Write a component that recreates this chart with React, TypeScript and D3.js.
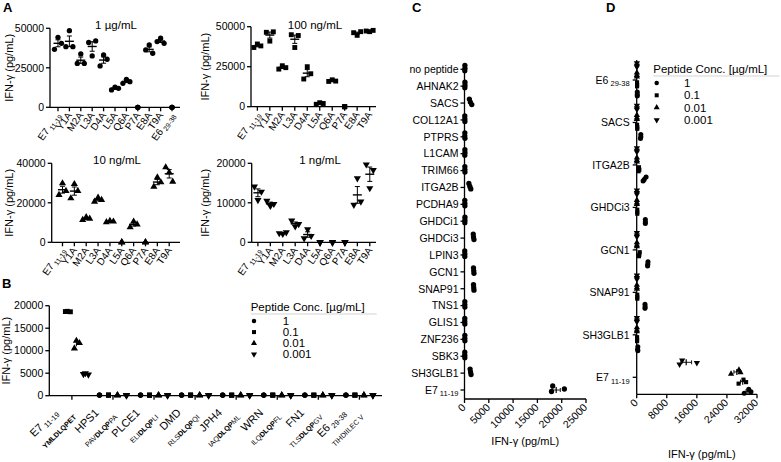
import React from "react";
import * as d3 from "d3";

const FONT = "'Liberation Sans', Arial, Helvetica, sans-serif";
const Y_LABEL = "IFN-γ (pg/mL)";
const SUBS: Record<string, string> = { E7: "11-19", E6: "29-38" };

// ---------------- Panel A ----------------
const aCats11 = ["E7", "Y1A", "M2A", "L3A", "D4A", "L5A", "Q6A", "P7A", "E8A", "T9A", "E6"];
const aCats10 = ["E7", "Y1A", "M2A", "L3A", "D4A", "L5A", "Q6A", "P7A", "E8A", "T9A"];

// replicates (left, middle, right), pg/mL
const a1ug = [
  [36700, 44300, 40500], [38400, 48500, 38400], [27800, 33800, 27800], [41000, 32500, 42000],
  [26200, 33100, 30400], [11000, 12700, 12000], [15200, 17700, 16200], [0, 0, 0],
  [36300, 39500, 34200], [41600, 43700, 40500], [0, 0, 0],
];
const a100ng = [
  [37000, 39200, 38000], [46500, 41000, 46800], [23500, 25600, 24400], [45000, 37000, 44500],
  [17300, 25000, 20600], [1500, 2500, 2000], [15800, 16800, 16000], [0, 0, 0],
  [46250, 44600, 46900], [47300, 46900, 47700],
];
const a10ng = [
  [24000, 29900, 26000], [22300, 29500, 26000], [11300, 12700, 12000], [20600, 22600, 21500],
  [10200, 10800, 10500], [0, 0, 0], [7600, 10500, 9100], [0, 0, 0],
  [28200, 32900, 30400], [38000, 35400, 30700],
];
const a1ng = [
  [14100, 10700, 12800], [10500, 9200, 9700], [2300, 2100, 2500], [5500, 4000, 4600],
  [1000, 3300, 1600], [0, 0, 0], [0, 0, 0], [0, 0, 0],
  [9500, 16200, 10300], [19700, 13700, 18300],
];
const a1ugTicks = [0, 25000, 50000];
const a100ngTicks = [0, 25000, 50000];
const a10ngTicks = [0, 20000, 40000];
const a1ngTicks = [0, 10000, 20000];

// ---------------- Panel B ----------------
const bGroups = ["E7", "HPS1", "PLCE1", "DMD", "JPH4", "WRN", "FN1", "E6"];
const bSeqPre = ["", "PAV", "ELI", "RLS", "IAQ", "ILQ", "TLS", "TIHDIILEC V"];
const bSeqCore = ["YMLDLQPET", "DLQP", "DLQP", "DLQP", "DLQP", "DLQP", "DLQP", ""];
const bSeqPost = ["", "PA", "LI", "QI", "ML", "FL", "GV", ""];
const concs = ["1", "0.1", "0.01", "0.001"];
const concShapes = ["circle", "square", "up", "down"];
const bConc1 = [[], [150, 150, 150], [150, 150, 150], [140, 140, 140], [150, 150, 150], [140, 140, 140], [150, 150, 150], [140, 140, 140]];
const bConc01 = [[18700, 18750, 18650], [130, 130, 130], [120, 120, 120], [130, 130, 130], [120, 120, 120], [130, 130, 130], [120, 120, 120], [130, 130, 130]];
const bConc001 = [[10500, 12200, 11700], [100, 100, 100], [100, 100, 100], [100, 100, 100], [100, 100, 100], [100, 100, 100], [100, 100, 100], [100, 100, 100]];
const bConc0001 = [[4800, 5000, 4700], [90, 90, 90], [90, 90, 90], [90, 90, 90], [90, 90, 90], [90, 90, 90], [90, 90, 90], [90, 90, 90]];
const bTicks = [0, 5000, 10000, 15000, 20000];

// ---------------- Panel C ----------------
const cCats = ["no peptide", "AHNAK2", "SACS", "COL12A1", "PTPRS", "L1CAM", "TRIM66", "ITGA2B", "PCDHA9", "GHDCi1",
  "GHDCi3", "LPIN3", "GCN1", "SNAP91", "TNS1", "GLIS1", "ZNF236", "SBK3", "SH3GLB1", "E7"];
const cValues = [
  [80, 60, 90], [90, 70, 100], [1000, 1500, 1200], [60, 80, 70], [70, 90, 60], [80, 60, 90], [70, 90, 80],
  [900, 1300, 1100], [60, 80, 70], [90, 70, 80], [1800, 1950, 1850], [50, 60, 70], [1850, 1950, 1900],
  [1850, 1950, 1900], [70, 80, 60], [60, 70, 50], [70, 80, 60], [60, 70, 50], [1150, 1350, 1250], [18150, 17900, 20550],
];
const cTicks = [0, 5000, 10000, 15000, 20000, 25000];

// ---------------- Panel D ----------------
const dCats = ["E6", "SACS", "ITGA2B", "GHDCi3", "GCN1", "SNAP91", "SH3GLB1", "E7"];
const dConcOrder = ["0.001", "0.01", "0.1", "1"];
const dDown = [[50, 50, 50], [50, 50, 50], [50, 50, 50], [50, 50, 50], [50, 50, 50], [50, 50, 50], [50, 50, 50], [11400, 12100, 16000]];
const dUp = [[50, 50, 50], [50, 50, 50], [50, 50, 50], [50, 50, 50], [50, 50, 50], [50, 50, 50], [50, 50, 50], [25100, 27200, 27600]];
const dSquare = [[100, 100, 100], [150, 100, 150], [500, 600, 700], [150, 150, 150], [600, 800, 700], [150, 150, 150], [100, 100, 100], [27100, 28400, 29100]];
const dCircle = [[150, 150, 150], [1000, 1100, 1100], [1700, 2500, 2000], [2300, 2300, 2300], [2900, 3000, 2950], [2200, 2200, 2250], [300, 300, 250], [28600, 29800, 30400]];
const dTicks = [0, 8000, 16000, 24000, 32000];

// ---------------- helpers ----------------
function stats(v: number[]) {
  const m = d3.mean(v) ?? 0;
  const sd = v.length > 1 ? d3.deviation(v) ?? 0 : 0;
  return [m, sd / Math.sqrt(v.length)];
}

function rot(tx: number, ty: number, deg: number) {
  const r = (deg * Math.PI) / 180;
  const c = Math.cos(r), s = Math.sin(r);
  return `matrix(${c.toFixed(5)},${s.toFixed(5)},${(-s).toFixed(5)},${c.toFixed(5)},${tx.toFixed(2)},${ty.toFixed(2)})`;
}

function Marker({ shape, x, y, size }: { shape: string; x: number; y: number; size: number }) {
  const type = shape === "circle" ? d3.symbolCircle : shape === "square" ? d3.symbolSquare : d3.symbolTriangle;
  const d = d3.symbol().type(type).size(size)() as string;
  return <path d={d} transform={`translate(${x},${y})${shape === "down" ? " scale(1,-1)" : ""}`} fill="#000" />;
}

function CatLabel({ name, size, subSize }: { name: string; size: number; subSize: number }) {
  const sub = SUBS[name];
  return (
    <>
      <tspan fontSize={size}>{name}</tspan>
      {sub ? <tspan fontSize={subSize} dy={2.5}> {sub}</tspan> : null}
    </>
  );
}

const AX = { stroke: "#000", strokeWidth: 1.3 };

function PanelA({ cats, values, yMax, ticks, shape, title, ax0, ax1, y0, y1, pad, titleX, titleY, ylabX, size }: any) {
  const x = d3.scalePoint<string>().domain(cats).range([ax0, ax1]).padding(pad);
  const y = d3.scaleLinear().domain([0, yMax]).range([y0, y1]);
  const jit = [-3.5, 0, 3.5];
  return (
    <g>
      <line x1={ax0} x2={ax1} y1={y0} y2={y0} {...AX} />
      <line x1={ax0} x2={ax0} y1={y0} y2={y1} {...AX} />
      {ticks.map((t: number) => (
        <g key={t}>
          <line x1={ax0 - 4} x2={ax0} y1={y(t)} y2={y(t)} {...AX} />
          <text x={ax0 - 6} y={y(t)} dy="0.36em" textAnchor="end" fontSize={10.5}>{t}</text>
        </g>
      ))}
      {cats.map((c: string, i: number) => {
        const cx = x(c)!;
        const v: number[] = values[i];
        const [m, se] = stats(v);
        const spread = (d3.max(v)! - d3.min(v)!) > 0;
        return (
          <g key={c}>
            <line x1={cx} x2={cx} y1={y0} y2={y0 + 4} {...AX} />
            <text transform={rot(cx + 3, y0 + 8, -55)} textAnchor="end" fontSize={10}>
              <CatLabel name={c} size={10} subSize={7} />
            </text>
            {v.map((val, j) => (
              <Marker key={j} shape={shape} x={cx + (spread ? jit[j] : 0)} y={y(val)} size={size} />
            ))}
            {spread ? (
              <g>
                <line x1={cx - 4.5} x2={cx + 4.5} y1={y(m)} y2={y(m)} stroke="#000" strokeWidth={1.4} />
                <line x1={cx} x2={cx} y1={y(m - se)} y2={y(m + se)} stroke="#000" strokeWidth={1} />
                <line x1={cx - 2.5} x2={cx + 2.5} y1={y(m + se)} y2={y(m + se)} stroke="#000" strokeWidth={1} />
                <line x1={cx - 2.5} x2={cx + 2.5} y1={y(m - se)} y2={y(m - se)} stroke="#000" strokeWidth={1} />
              </g>
            ) : null}
          </g>
        );
      })}
      <text x={titleX} y={titleY} textAnchor="middle" fontSize={11.5}>{title}</text>
      <text transform={rot(ylabX, (y0 + y1) / 2, -90)} textAnchor="middle" fontSize={11}>{Y_LABEL}</text>
    </g>
  );
}

function Legend({ x, y, step, markerDx, textDx, size }: any) {
  return (
    <g>
      <text x={x} y={y} fontSize={11.5}>Peptide Conc. [µg/mL]</text>
      <line x1={x} x2={x + 126} y1={y + 3} y2={y + 3} stroke="#c8c8c8" strokeWidth={0.8} />
      {concs.map((c, i) => (
        <g key={c}>
          <Marker shape={concShapes[i]} x={x + markerDx} y={y + 10 + i * step} size={size} />
          <text x={x + textDx} y={y + 10 + i * step} dy="0.36em" fontSize={11.5}>{c}</text>
        </g>
      ))}
    </g>
  );
}

function PanelB() {
  const ax0 = 49.3, ax1 = 382, y0 = 395.7, y1 = 305.7;
  const y = d3.scaleLinear().domain([0, 20000]).range([y0, y1]);
  const gx = d3.scaleBand<string>().domain(bGroups).range([ax0, ax1]).paddingInner(0).paddingOuter(0.05);
  const sub = d3.scalePoint<string>().domain(concs).range([-13.5, 13.5]);
  const series = [bConc1, bConc01, bConc001, bConc0001];
  const jit = [-2, 0, 3];
  return (
    <g>
      <line x1={ax0} x2={ax1} y1={y0} y2={y0} {...AX} />
      <line x1={ax0} x2={ax0} y1={y0} y2={y1} {...AX} />
      {bTicks.map((t) => (
        <g key={t}>
          <line x1={ax0 - 4} x2={ax0} y1={y(t)} y2={y(t)} {...AX} />
          <text x={ax0 - 6} y={y(t)} dy="0.36em" textAnchor="end" fontSize={10.5}>{t}</text>
        </g>
      ))}
      {bGroups.map((g, gi) => {
        const cx = gx(g)! + gx.bandwidth() / 2;
        return (
          <g key={g}>
            <line x1={cx} x2={cx} y1={y0} y2={y0 + 4} {...AX} />
            <g transform={rot(cx, y0, -45)}>
              <text x={-22} y={3} textAnchor="end">
                <CatLabel name={g} size={11} subSize={7.5} />
              </text>
              <text x={-12} y={19} textAnchor="end" fontSize={7.2}>
                <tspan>{bSeqPre[gi]}</tspan>
                <tspan fontWeight="bold">{bSeqCore[gi]}</tspan>
                <tspan>{bSeqPost[gi]}</tspan>
              </text>
            </g>
            {series.map((s, si) => {
              const v: number[] = s[gi];
              if (!v.length) return null;
              const px = cx + sub(concs[si])!;
              const [m, se] = stats(v);
              return (
                <g key={si}>
                  {v.map((val, j) => (
                    <Marker key={j} shape={concShapes[si]} x={px + (gi === 0 ? jit[j] : 0)} y={y(val)} size={si === 1 ? 24 : 22} />
                  ))}
                  <line x1={px} x2={px} y1={y(m - se)} y2={y(m + se)} stroke="#000" strokeWidth={1} />
                </g>
              );
            })}
          </g>
        );
      })}
      <text transform={rot(10, (y0 + y1) / 2, -90)} textAnchor="middle" fontSize={11}>{Y_LABEL}</text>
    </g>
  );
}

function HBarStats({ x, yc, v }: { x: any; yc: number; v: number[] }) {
  const [m, se] = stats(v);
  return (
    <g>
      <line x1={x(m)} x2={x(m)} y1={yc - 3} y2={yc + 3} stroke="#000" strokeWidth={1.2} />
      <line x1={x(m - se)} x2={x(m + se)} y1={yc} y2={yc} stroke="#000" strokeWidth={0.9} />
      <line x1={x(m - se)} x2={x(m - se)} y1={yc - 2} y2={yc + 2} stroke="#000" strokeWidth={0.9} />
      <line x1={x(m + se)} x2={x(m + se)} y1={yc - 2} y2={yc + 2} stroke="#000" strokeWidth={0.9} />
    </g>
  );
}

function PanelC() {
  const ax0 = 464.5, ax1 = 586, yAx = 399, yTop = 63;
  const x = d3.scaleLinear().domain([0, 25000]).range([ax0, ax1]);
  const y = d3.scalePoint<string>().domain(cCats).range([69.3, 390]);
  const dy = [-4, 1.5, -1];
  return (
    <g>
      <line x1={ax0} x2={ax1} y1={yAx} y2={yAx} {...AX} />
      <line x1={ax0} x2={ax0} y1={yAx} y2={yTop} {...AX} />
      {cTicks.map((t) => (
        <g key={t}>
          <line x1={x(t)} x2={x(t)} y1={yAx} y2={yAx + 4} {...AX} />
          <text transform={rot(x(t) + 2, yAx + 9, -45)} textAnchor="end" fontSize={10.5}>{t}</text>
        </g>
      ))}
      {cCats.map((c, i) => {
        const yc = y(c)!;
        return (
          <g key={c}>
            <line x1={ax0 - 4} x2={ax0} y1={yc} y2={yc} {...AX} />
            <text x={ax0 - 6} y={yc} dy="0.36em" textAnchor="end" fontSize={10.5}>
              <CatLabel name={c} size={10.5} subSize={7.5} />
            </text>
            {cValues[i].map((val, j) => (
              <Marker key={j} shape="circle" x={x(val)} y={yc + dy[j]} size={22} />
            ))}
            <HBarStats x={x} yc={yc} v={cValues[i]} />
          </g>
        );
      })}
      <text x={(ax0 + ax1) / 2} y={445} textAnchor="middle" fontSize={11}>{Y_LABEL}</text>
    </g>
  );
}

function PanelD() {
  const ax0 = 636.7, ax1 = 757, yAx = 394.3, yTop = 60;
  const x = d3.scaleLinear().domain([0, 32000]).range([ax0, ax1]);
  const y = d3.scalePoint<string>().domain(dCats).range([80, 377.3]);
  const sub = d3.scalePoint<string>().domain(dConcOrder).range([-15, 14]);
  const series = [dDown, dUp, dSquare, dCircle];
  const shapes = ["down", "up", "square", "circle"];
  const dy = [2, -2, 0.5];
  return (
    <g>
      <line x1={ax0} x2={ax1} y1={yAx} y2={yAx} {...AX} />
      <line x1={ax0} x2={ax0} y1={yAx} y2={yTop} {...AX} />
      {dTicks.map((t) => (
        <g key={t}>
          <line x1={x(t)} x2={x(t)} y1={yAx} y2={yAx + 4} {...AX} />
          <text transform={rot(x(t) + 2, yAx + 9, -45)} textAnchor="end" fontSize={10.5}>{t}</text>
        </g>
      ))}
      {dCats.map((c, i) => {
        const yc = y(c)!;
        return (
          <g key={c}>
            <line x1={ax0 - 4} x2={ax0} y1={yc} y2={yc} {...AX} />
            <text x={ax0 - 7} y={yc} dy="0.36em" textAnchor="end" fontSize={10.5}>
              <CatLabel name={c} size={10.5} subSize={7.5} />
            </text>
            {series.map((s, si) => {
              const ry = yc + sub(dConcOrder[si])!;
              return (
                <g key={si}>
                  {s[i].map((val, j) => (
                    <Marker key={j} shape={shapes[si]} x={x(val)} y={ry + dy[j]} size={shapes[si] === "circle" ? 20 : 17} />
                  ))}
                  <HBarStats x={x} yc={ry} v={s[i]} />
                </g>
              );
            })}
          </g>
        );
      })}
      <text x={(ax0 + ax1) / 2 + 5} y={458} textAnchor="middle" fontSize={11}>{Y_LABEL}</text>
    </g>
  );
}

export default function App() {
  return (
    <svg width={781} height={462} viewBox="0 0 781 462" fontFamily={FONT}
      style={{ position: "absolute", left: 0, top: 0, background: "#fff" }}>
      <rect width={781} height={462} fill="#fff" />
      <text x={3} y={12} fontSize={13} fontWeight="bold">A</text>
      <text x={2} y={288} fontSize={13} fontWeight="bold">B</text>
      <text x={412} y={12} fontSize={13} fontWeight="bold">C</text>
      <text x={606} y={12} fontSize={13} fontWeight="bold">D</text>

      <PanelA cats={aCats11} values={a1ug} yMax={50000} ticks={a1ugTicks} shape="circle" title="1 µg/mL"
        ax0={50} ax1={180} y0={107.3} y1={28.3} pad={0.7} titleX={116} titleY={29} ylabX={13} size={22} />
      <PanelA cats={aCats10} values={a100ng} yMax={50000} ticks={a100ngTicks} shape="square" title="100 ng/mL"
        ax0={251} ax1={376} y0={106.7} y1={26.7} pad={0.51} titleX={315} titleY={29} ylabX={209} size={24} />
      <PanelA cats={aCats10} values={a10ng} yMax={40000} ticks={a10ngTicks} shape="up" title="10 ng/mL"
        ax0={51.7} ax1={180} y0={242.3} y1={163.3} pad={0.91} titleX={117} titleY={164} ylabX={13} size={22} />
      <PanelA cats={aCats10} values={a1ng} yMax={20000} ticks={a1ngTicks} shape="down" title="1 ng/mL"
        ax0={251.7} ax1={376} y0={242.3} y1={163.3} pad={0.5} titleX={320} titleY={164} ylabX={209} size={22} />

      <PanelB />
      <Legend x={250.7} y={311} step={11.1} markerDx={3.3} textDx={32} size={16} />

      <PanelC />
      <PanelD />
      <Legend x={653.3} y={73} step={12.3} markerDx={3.4} textDx={30.7} size={16} />
    </svg>
  );
}
